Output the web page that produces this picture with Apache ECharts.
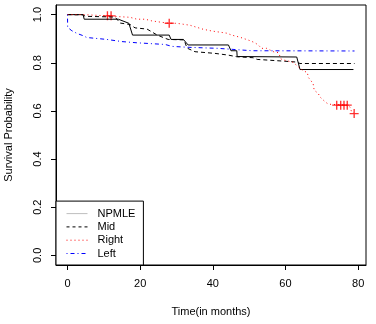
<!DOCTYPE html>
<html>
<head>
<meta charset="utf-8">
<script src="https://cdn.jsdelivr.net/npm/echarts@6/dist/echarts.min.js"></script>
<style>
  html, body { margin: 0; padding: 0; background: #fff; }
  #main { width: 376px; height: 324px; }
</style>
</head>
<body>
<div id="main"></div>
<script>
// values (time in months, survival probability)
var npmleT = [0, 4.3, 4.6, 14.0, 16.9, 17.9, 28.0, 28.5, 31.9, 33.2, 44.3, 45.0, 46.6, 46.7, 63.1, 64.0, 78.7];
var npmleS = [1.0, 1.0, 0.981, 0.981, 0.964, 0.915, 0.915, 0.897, 0.897, 0.874, 0.874, 0.850, 0.850, 0.826, 0.824, 0.772, 0.772];

var midT = [0, 4.3, 4.9, 13.1, 14.5, 17.2, 18.6, 21.9, 24.7, 27.7, 32.1, 32.9, 35.1, 40.6, 44.2, 46.6, 51.1, 52.2, 59.3, 63.1, 64.0, 79.0];
var midS = [1.0, 0.999, 0.993, 0.990, 0.965, 0.959, 0.945, 0.940, 0.915, 0.897, 0.895, 0.861, 0.846, 0.839, 0.832, 0.825, 0.821, 0.814, 0.807, 0.803, 0.797, 0.797];

var rightT = [0, 4.3, 4.6, 9.5, 11.0, 12.0, 13.6, 17.2, 19.1, 21.4, 23.2, 26.0, 28.0, 30.1, 33.7, 37.4, 39.7, 42.0, 43.8, 45.2, 47.5, 50.2, 51.6, 52.5, 53.4, 54.8, 57.1, 58.0, 58.9, 60.8, 62.1, 64.0, 65.1, 66.0, 66.3, 67.6, 67.9, 69.0, 69.5, 70.9, 71.8, 77.0, 77.9, 78.1, 78.9];
var rightS = [1.0, 1.0, 0.996, 0.996, 0.995, 0.995, 0.992, 0.989, 0.981, 0.981, 0.974, 0.968, 0.964, 0.964, 0.956, 0.939, 0.932, 0.927, 0.923, 0.915, 0.906, 0.892, 0.883, 0.874, 0.860, 0.860, 0.843, 0.843, 0.814, 0.807, 0.802, 0.777, 0.765, 0.760, 0.739, 0.714, 0.686, 0.673, 0.658, 0.638, 0.628, 0.624, 0.614, 0.600, 0.589];

var leftT = [0, 0.05, 1.2, 2.6, 4.4, 5.3, 10.8, 15.0, 19.1, 26.9, 28.8, 33.7, 41.4, 48.0, 50.8, 79.0];
var leftS = [1.0, 0.947, 0.933, 0.922, 0.912, 0.905, 0.897, 0.888, 0.883, 0.876, 0.868, 0.864, 0.860, 0.853, 0.850, 0.849];

// censoring marks on the right-censored curve
var censorT = [11.0, 12.0, 28.0, 74.1, 75.2, 76.1, 77.0, 78.9];
var censorS = [0.995, 0.995, 0.964, 0.624, 0.624, 0.624, 0.624, 0.589];

var xTicks = [0, 20, 40, 60, 80];
var yTicks = [0, 0.2, 0.4, 0.6, 0.8, 1.0];

function zip(t, s) {
  var out = [];
  for (var i = 0; i < t.length; i++) out.push([t[i], s[i]]);
  return out;
}

var font = '"Liberation Sans", Arial, sans-serif';
var chart = echarts.init(document.getElementById('main'), null, { renderer: 'canvas' });

var option = {
  animation: false,
  backgroundColor: '#fff',
  grid: {
    show: true,
    left: 56, right: 10, top: 5, bottom: 59,
    containLabel: false,
    outerBoundsMode: 'none',
    borderColor: '#000', borderWidth: 1,
    backgroundColor: 'transparent'
  },
  legend: {
    orient: 'vertical',
    left: 56, bottom: 59,
    padding: [7, 8, 6, 10],
    borderColor: '#000', borderWidth: 1, borderRadius: 0,
    backgroundColor: '#fff',
    itemWidth: 21, itemHeight: 11, itemGap: 2.3,
    itemStyle: { opacity: 0 },
    textStyle: { fontFamily: font, fontSize: 11, color: '#000', padding: [0, 0, 0, 5] },
    data: [
      { name: 'NPMLE', lineStyle: { color: '#bebebe', width: 1, type: 'solid' } },
      { name: 'Mid', lineStyle: { color: '#000', width: 1, type: [3, 3] } },
      { name: 'Right', lineStyle: { color: '#ff0000', width: 1, type: [1, 3] } },
      { name: 'Left', lineStyle: { color: '#0000ff', width: 1, type: [1, 3, 4, 3] } }
    ]
  },
  xAxis: {
    type: 'value',
    min: -3.16, max: 82.16,
    name: 'Time(in months)',
    nameLocation: 'middle', nameGap: 41,
    nameTextStyle: { fontFamily: font, fontSize: 11, color: '#000' },
    axisLine: { show: true, onZero: false, lineStyle: { color: '#000', width: 1 } },
    axisTick: { show: true, length: 5, lineStyle: { color: '#000' }, customValues: xTicks },
    axisLabel: { fontFamily: font, fontSize: 11, color: '#000', margin: 13, customValues: xTicks },
    splitLine: { show: false }
  },
  yAxis: {
    type: 'value',
    min: -0.04, max: 1.04,
    name: 'Survival Probability',
    nameLocation: 'middle', nameGap: 41.5,
    nameTextStyle: { fontFamily: font, fontSize: 11, color: '#000' },
    axisLine: { show: true, onZero: false, lineStyle: { color: '#000', width: 1 } },
    axisTick: { show: true, length: 5, lineStyle: { color: '#000' }, customValues: yTicks },
    axisLabel: {
      fontFamily: font, fontSize: 11, color: '#000', margin: 13, rotate: 90,
      customValues: yTicks,
      formatter: function (v) { return v.toFixed(1); }
    },
    splitLine: { show: false }
  },
  series: [
    {
      name: 'NPMLE', type: 'line', data: zip(npmleT, npmleS),
      symbol: 'none', lineStyle: { color: '#000', width: 1, type: 'solid' },
      itemStyle: { color: '#000' }
    },
    {
      name: 'Mid', type: 'line', data: zip(midT, midS),
      symbol: 'none', lineStyle: { color: '#000', width: 1, type: [4, 3] },
      itemStyle: { color: '#000' }
    },
    {
      name: 'Right', type: 'line', data: zip(rightT, rightS),
      symbol: 'none', lineStyle: { color: '#ff0000', width: 1, type: [1, 3] },
      itemStyle: { color: '#ff0000' }
    },
    {
      name: 'Left', type: 'line', data: zip(leftT, leftS),
      symbol: 'none', lineStyle: { color: '#0000ff', width: 1, type: [1, 3, 4, 3] },
      itemStyle: { color: '#0000ff' }
    },
    {
      name: 'censor', type: 'scatter', data: zip(censorT, censorS),
      symbol: 'path://M0,3.4H8V4.6H0Z M3.4,0H4.6V8H3.4Z',
      symbolSize: 9,
      itemStyle: { color: '#ff0000' }
    }
  ]
};

chart.setOption(option);
</script>
</body>
</html>
